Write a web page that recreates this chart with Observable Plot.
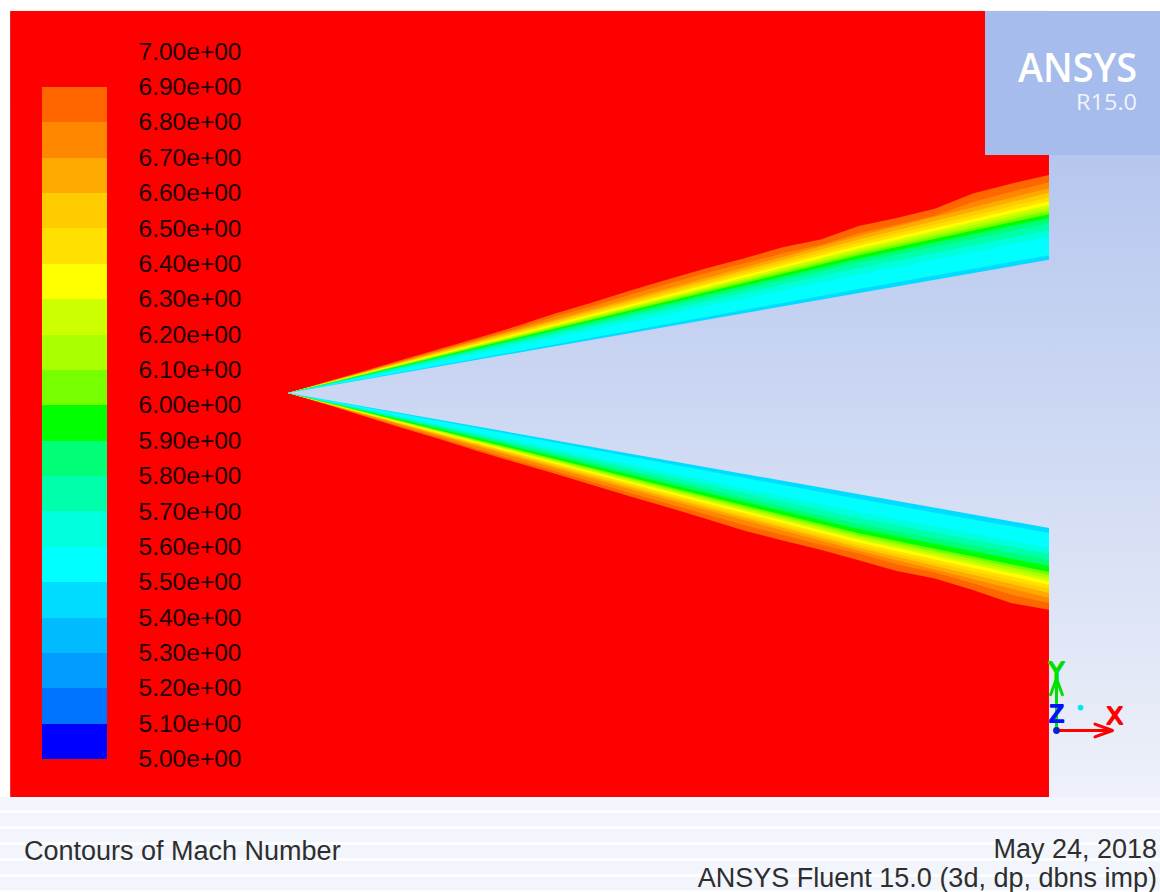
<!DOCTYPE html>
<html>
<head>
<meta charset="utf-8">
<script src="https://cdn.jsdelivr.net/npm/d3@7"></script>
<script src="https://cdn.jsdelivr.net/npm/@observablehq/plot@0.6"></script>
<style>
  html, body { margin: 0; padding: 0; background: #fff; }
  #frame { position: relative; width: 1160px; height: 892px; overflow: hidden; background: #fff;
           font-family: "Liberation Sans", Arial, sans-serif; }
  #backdrop { position: absolute; left: 10px; top: 11px; width: 1150px; height: 786px;
              background: linear-gradient(to bottom, #a9bdec, #eef1f9); }
  .layer { position: absolute; left: 0; top: 0; }
  #triad { position: absolute; left: 1000px; top: 650px; }
  #logo { position: absolute; left: 985px; top: 11px; width: 175px; height: 144px; background: #a6bcec; }
  #footer { position: absolute; left: 0; top: 797px; width: 1160px; height: 95px;
            background: repeating-linear-gradient(to bottom, #f2f5fb 0px, #f2f5fb 13px, #fcfdff 13px, #fcfdff 16px); }
  .foot { position: absolute; font-size: 27px; line-height: 27px; color: #2e2e2e; white-space: nowrap; }
</style>
</head>
<body>
<div id="frame">
  <div id="backdrop"></div>
  <div class="layer" id="field"></div>
  <div class="layer" id="colorbar"></div>
  <div id="triad"></div>
  <div id="logo">
    <svg width="175" height="144">
      <text font-family="Open Sans" fill="#ffffff">
        <tspan x="33" y="71" font-weight="600" font-size="40"
               textLength="119" lengthAdjust="spacingAndGlyphs">ANSYS</tspan>
        <tspan x="91" y="99" font-size="21" fill="#f0f4fc"
               textLength="61" lengthAdjust="spacingAndGlyphs">R15.0</tspan>
      </text>
    </svg>
  </div>
  <div id="footer">
    <div class="foot" style="left:24px; top:41px;">Contours of Mach Number</div>
    <div class="foot" style="right:3px; top:39px;">May 24, 2018</div>
    <div class="foot" style="right:3px; top:68px;">ANSYS Fluent 15.0 (3d, dp, dbns imp)</div>
  </div>
</div>
<script>
// Mach number contour levels (colorbar ticks) and the 20 band colours between them
const levels = [5.0, 5.1, 5.2, 5.3, 5.4, 5.5, 5.6, 5.7, 5.8, 5.9, 6.0,
                6.1, 6.2, 6.3, 6.4, 6.5, 6.6, 6.7, 6.8, 6.9, 7.0];
const bandColors = ["#0000ff", "#0074ff", "#009cff", "#00bcff", "#00dcff",
                    "#00ffff", "#00ffdd", "#00ffaa", "#00ff77", "#00ff00",
                    "#77ff00", "#aaff00", "#ccff00", "#ffff00", "#ffe000",
                    "#ffcc00", "#ffaa00", "#ff8800", "#ff6600", "#ff0000"];

const freestreamMach = 7.0;

// Computational domain (mm), cone apex at the origin
const fluidDomain = [{xMin: -365, xMax: 1000, yMin: -531, yMax: 502}];

// Cone surface (mm)
const coneStations = [0, 1000];
const coneUpper = [0, 175.0];
const coneLower = [0, -177.4];

// Contour lines inside the shock layer, y (mm) at the axial stations
const stations = [0, 250, 500, 750, 1000];
const innerLevels = [5.5, 5.6, 5.7, 5.8, 5.9, 6.0, 6.1, 6.2, 6.3, 6.4, 6.5, 6.6, 6.7];
const upperContourY = [
  [0, 45.5,  91.0, 136.5, 181],
  [0, 51.8, 103.5, 155.3, 205],
  [0, 54.8, 109.5, 164.3, 214],
  [0, 57.0, 114.0, 171.0, 223],
  [0, 58.8, 117.5, 176.3, 230],
  [0, 60.3, 120.5, 180.8, 235],
  [0, 61.3, 122.5, 183.8, 239],
  [0, 62.3, 124.5, 186.8, 243],
  [0, 63.3, 126.5, 189.8, 247],
  [0, 64.5, 129.0, 193.5, 252],
  [0, 65.8, 131.5, 197.3, 257],
  [0, 67.3, 134.5, 201.8, 263],
  [0, 68.8, 137.5, 206.3, 269]
];
const lowerContourY = [
  [0, -46.5,  -93.0, -139.5, -184.0],
  [0, -52.2, -104.4, -156.5, -203.7],
  [0, -54.9, -109.8, -164.7, -211.6],
  [0, -57.4, -114.7, -172.1, -219.4],
  [0, -59.6, -119.2, -178.7, -227.3],
  [0, -61.8, -123.6, -184.5, -235.2],
  [0, -62.8, -125.6, -187.5, -239.2],
  [0, -63.8, -127.6, -190.3, -243.1],
  [0, -64.8, -129.5, -193.0, -247.0],
  [0, -66.1, -132.2, -196.5, -252.3],
  [0, -67.4, -134.8, -200.0, -257.6],
  [0, -68.7, -137.4, -203.5, -262.8],
  [0, -70.4, -140.7, -207.5, -269.4]
];

// Outer edge of the shock layer (M = 6.8 and 6.9), finer stations
const edgeStations = [0, 50, 100, 150, 200, 250, 300, 350, 400, 450, 500,
                      550, 600, 650, 700, 750, 800, 850, 900, 950, 1000];
const upperEdge68 = [0, 14.0, 28.0, 42.0, 56.0, 70.0, 84.5, 100, 114, 129, 143.5,
                     157.5, 170, 183.5, 194.5, 210, 221, 233, 251, 264.5, 277];
const upperEdge69 = [0, 14.5, 29.0, 43.5, 58.0, 72.5, 87.5, 104, 119, 134.5, 149.5,
                     164, 177, 191.5, 201.5, 219.5, 230, 242, 262, 275, 286.5];
const lowerEdge68 = [0, -14.5, -29.5, -44.5, -59, -74, -88.5, -102.5, -117, -131.5, -145.5,
                     -159.5, -174, -186.5, -199.5, -211, -225, -236, -250, -265, -276];
const lowerEdge69 = [0, -15, -30.5, -46, -61, -76.5, -91.5, -106, -121, -136, -150.5,
                     -165.5, -181, -194, -206, -220, -234, -244, -259, -276, -285];

// Coordinate triad
const triadAxes = [
  {name: "Y", x: 0, y: 1, color: "#00e000"},
  {name: "X", x: 1, y: 0, color: "#ff0000"}
];
const triadLabels = [
  {name: "Y", x: 0, y: 1.13, color: "#00e000"},
  {name: "X", x: 1.04, y: 0.27, color: "#ff0000"},
  {name: "Z", x: 0, y: 0.31, color: "#0010ff"}
];
const triadMarkers = [
  {x: 0.43, y: 0.44, r: 5, color: "#00e8f0"},
  {x: 0, y: 0, r: 7, color: "#0a1ecc"}
];

// ---------------------------------------------------------------------------

const colorSpec = {type: "threshold", domain: levels.slice(1, -1), range: bandColors};
const toPoints = (xs, ys) => xs.map((x, i) => ({x, y: ys[i]}));

const upperLines = innerLevels.map((level, i) => ({level, points: toPoints(stations, upperContourY[i])}))
  .concat([{level: 6.8, points: toPoints(edgeStations, upperEdge68)},
           {level: 6.9, points: toPoints(edgeStations, upperEdge69)}]);
const lowerLines = innerLevels.map((level, i) => ({level, points: toPoints(stations, lowerContourY[i])}))
  .concat([{level: 6.8, points: toPoints(edgeStations, lowerEdge68)},
           {level: 6.9, points: toPoints(edgeStations, lowerEdge69)}]);

// paint from the outermost contour inwards: each fill carries the band just below its level
const byLevelDesc = (a, b) => b.level - a.level;
const upperFills = upperLines.slice().sort(byLevelDesc).map(c =>
  Plot.areaY(c.points, {x: "x", y1: 0, y2: "y", fill: () => c.level - 0.05}));
const lowerFills = lowerLines.slice().sort(byLevelDesc).map(c =>
  Plot.areaY(c.points, {x: "x", y1: "y", y2: 0, fill: () => c.level - 0.05}));

const coneRows = coneStations.map((x, i) => ({x, upper: coneUpper[i], lower: coneLower[i]}));

const field = Plot.plot({
  width: 1160,
  height: 797,
  margin: 0,
  style: {background: "transparent"},
  x: {domain: [-378.4, 1145.9], axis: null},
  y: {domain: [-531, 516.4], axis: null},
  color: colorSpec,
  marks: [
    Plot.rect(fluidDomain, {x1: "xMin", x2: "xMax", y1: "yMin", y2: "yMax", fill: () => freestreamMach}),
    ...upperFills,
    ...lowerFills,
    Plot.areaY(coneRows, {x: "x", y1: "lower", y2: "upper", fill: "url(#coneSky)"})
  ]
});
const defs = d3.select(field).insert("defs", ":first-child");
const grad = defs.append("linearGradient")
  .attr("id", "coneSky").attr("gradientUnits", "userSpaceOnUse")
  .attr("x1", 0).attr("y1", 11).attr("x2", 0).attr("y2", 797);
grad.append("stop").attr("offset", 0).attr("stop-color", "#a9bdec");
grad.append("stop").attr("offset", 1).attr("stop-color", "#eef1f9");
document.getElementById("field").appendChild(field);

// Colorbar
const formatLabel = v => v.toExponential(2).replace(/e([+-])(\d)$/, (m, s, d) => `e${s}0${d}`);
const bands = d3.pairs(levels).map(([lo, hi]) => ({lo, hi, mid: (lo + hi) / 2}));
const colorbar = Plot.plot({
  width: 300,
  height: 797,
  margin: 0,
  style: {background: "transparent", fontFamily: "Liberation Sans, Arial, sans-serif"},
  x: {domain: [0, 1], range: [42, 107], axis: null},
  y: {domain: [5, 7], range: [759, 51.5], axis: null},
  color: colorSpec,
  marks: [
    Plot.rect(bands, {x1: 0, x2: 1, y1: "lo", y2: "hi", fill: "mid", shapeRendering: "crispEdges"}),
    Plot.text(levels, {x: 1, y: d => d, text: formatLabel, textAnchor: "start", dx: 31,
                       fontSize: 24, fill: "#1c0000"})
  ]
});
d3.select(colorbar).selectAll("text")
  .attr("textLength", 103).attr("lengthAdjust", "spacingAndGlyphs");
document.getElementById("colorbar").appendChild(colorbar);

// Triad
const triad = Plot.plot({
  width: 140,
  height: 100,
  margin: 0,
  style: {background: "transparent", fontFamily: "Liberation Sans, Arial, sans-serif", overflow: "visible"},
  x: {domain: [0, 1], range: [56, 112], axis: null},
  y: {domain: [0, 1], range: [80, 28], axis: null},
  color: {type: "identity"},
  marks: [
    Plot.arrow(triadAxes, {x1: 0, y1: 0, x2: "x", y2: "y", stroke: "color", strokeWidth: 3,
                           headLength: 14, headAngle: 40}),
    Plot.text(triadLabels, {x: "x", y: "y", text: "name", fill: "color", stroke: "color",
                            strokeWidth: 2, fontSize: 24}),
    Plot.dot(triadMarkers, {x: "x", y: "y", r: "r", fill: "color"})
  ]
});
document.getElementById("triad").appendChild(triad);
</script>
</body>
</html>
